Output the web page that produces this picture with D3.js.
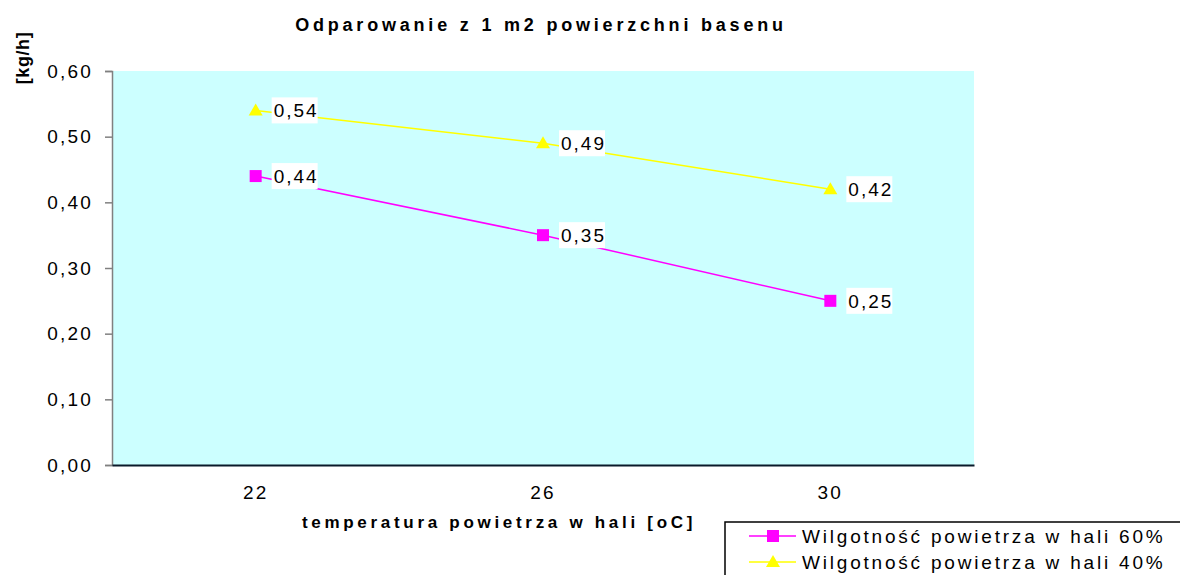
<!DOCTYPE html>
<html>
<head>
<meta charset="utf-8">
<script src="https://cdn.jsdelivr.net/npm/d3@7"></script>
<style>
  html, body { margin: 0; padding: 0; background: #ffffff; }
  svg { display: block; font-family: "Liberation Sans", Arial, sans-serif; }
</style>
</head>
<body>
<svg id="chart" width="1180" height="575"></svg>
<script>
// ---- data ----
const categories = ["22", "26", "30"];
const seriesNames = ["Wilgotność powietrza w hali 60%", "Wilgotność powietrza w hali 40%"];
const values60 = [0.44, 0.35, 0.25];
const values40 = [0.54, 0.49, 0.42];
const yTicks = [0, 0.1, 0.2, 0.3, 0.4, 0.5, 0.6];
const titleText = "Odparowanie z 1 m2 powierzchni basenu";
const xTitle = "temperatura powietrza w hali [oC]";
const yTitle = "[kg/h]";

const series = [
  { name: seriesNames[0], values: values60, color: "#FF00FF", marker: "square" },
  { name: seriesNames[1], values: values40, color: "#FFFF00", marker: "triangle" }
];

const svg = d3.select("#chart");
const plot = { left: 112, right: 974, top: 71, bottom: 465 };
const FONT = "Liberation Sans, Arial, sans-serif";

const x = d3.scaleBand().domain(categories).range([plot.left, plot.right]);
const y = d3.scaleLinear().domain([0, 0.6]).range([plot.bottom, plot.top]);
const fmt = v => d3.format(".2f")(v).replace(".", ",");
const cx = c => x(c) + x.bandwidth() / 2;

// plot background
svg.append("rect")
  .attr("x", plot.left).attr("y", plot.top)
  .attr("width", plot.right - plot.left).attr("height", plot.bottom - plot.top)
  .attr("fill", "#CCFFFF");

// y axis
const yAxis = svg.append("g")
  .attr("transform", `translate(${plot.left},0)`)
  .call(d3.axisLeft(y).tickValues(yTicks).tickFormat(fmt).tickSize(7).tickPadding(12));
yAxis.select(".domain").attr("stroke", "#808080").attr("stroke-width", 1.5);
yAxis.selectAll(".tick line").attr("stroke", "#808080").attr("stroke-width", 1.5);
yAxis.selectAll(".tick text")
  .attr("font-size", 19).attr("fill", "#000").style("letter-spacing", "2.2px")
  .attr("font-family", FONT);

// x axis
const xAxis = svg.append("g")
  .attr("transform", `translate(0,${plot.bottom})`)
  .call(d3.axisBottom(x).tickSize(0).tickPadding(21));
xAxis.select(".domain").attr("stroke", "#0a1a2a").attr("stroke-width", 2);
xAxis.selectAll(".tick text")
  .attr("font-size", 19).attr("fill", "#000").style("letter-spacing", "2.2px")
  .attr("font-family", FONT);

// title
svg.append("text")
  .attr("x", 541).attr("y", 31).attr("text-anchor", "middle")
  .attr("font-size", 18).attr("font-weight", "bold").style("letter-spacing", "3.8px")
  .text(titleText);

// x title
svg.append("text")
  .attr("x", 499).attr("y", 528).attr("text-anchor", "middle")
  .attr("font-size", 17).attr("font-weight", "bold").style("letter-spacing", "3.7px")
  .text(xTitle);

// y title
svg.append("text")
  .attr("transform", "translate(29,58) rotate(-90)")
  .attr("text-anchor", "middle")
  .attr("font-size", 18).attr("font-weight", "bold").style("letter-spacing", "0.6px")
  .text(yTitle);

const line = d3.line().x((d, i) => cx(categories[i])).y(d => y(d));

function drawMarker(g, type, color, px, py) {
  if (type === "square") {
    g.append("rect").attr("x", px - 6).attr("y", py - 6).attr("width", 12).attr("height", 12)
      .attr("fill", color);
  } else {
    g.append("path")
      .attr("d", `M${px},${py - 7} L${px + 7},${py + 5} L${px - 7},${py + 5} Z`)
      .attr("fill", color);
  }
}

series.forEach(s => {
  const g = svg.append("g");
  g.append("path").datum(s.values).attr("d", line)
    .attr("fill", "none").attr("stroke", s.color).attr("stroke-width", 1.5);
  s.values.forEach((v, i) => {
    const px = cx(categories[i]), py = y(v);
    drawMarker(g, s.marker, s.color, px, py);
    const lg = g.append("g");
    const t = lg.append("text")
      .attr("x", px + 18).attr("y", py + 7)
      .attr("font-size", 19).style("letter-spacing", "2px").attr("fill", "#000")
      .text(fmt(v));
    const bb = t.node().getBBox();
    lg.insert("rect", "text")
      .attr("x", px + 16).attr("y", py - 13)
      .attr("width", bb.width + 1).attr("height", 26)
      .attr("fill", "#fff");
  });
});

// legend
const lgX = 725, lgY = 522;
svg.append("rect")
  .attr("x", lgX).attr("y", lgY).attr("width", 500).attr("height", 100)
  .attr("fill", "#fff").attr("stroke", "#000").attr("stroke-width", 1.5);
series.forEach((s, i) => {
  const ry = 536 + i * 26;
  const g = svg.append("g");
  g.append("line").attr("x1", 749).attr("x2", 796).attr("y1", ry).attr("y2", ry)
    .attr("stroke", s.color).attr("stroke-width", 1.5);
  drawMarker(g, s.marker, s.color, 773, ry);
  g.append("text").attr("x", 802).attr("y", ry + 7)
    .attr("font-size", 19).style("letter-spacing", "2.8px").attr("fill", "#000")
    .text(s.name);
});
</script>
</body>
</html>
